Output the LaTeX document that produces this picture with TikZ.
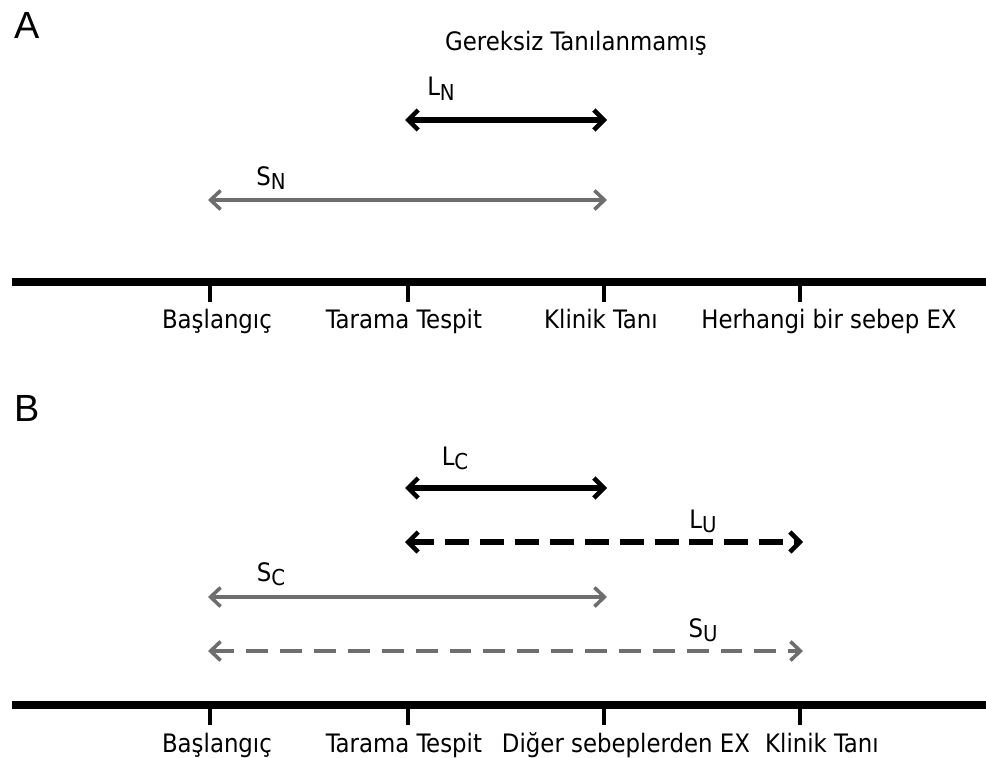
\documentclass[tikz,border=0pt]{standalone}
\usepackage{fontspec}
\setmainfont{DejaVu Sans Condensed}
\usetikzlibrary{arrows.meta}
\definecolor{grayline}{HTML}{6E6E6E}
\tikzset{
  lbl/.style={font=\fontsize{25.5}{28}\selectfont, inner sep=0pt, anchor=base},
  panel/.style={font=\fontsize{38}{40}\selectfont\fontspec{Liberation Sans}, inner sep=0pt},
  blackarr/.style={line width=5.4pt, black, {Straight Barb[length=10pt,width=20pt,line width=4.6pt]}-{Straight Barb[length=10pt,width=20pt,line width=4.6pt]}},
  grayarr/.style={line width=4pt, grayline, {Straight Barb[length=10pt,width=19pt,line width=3.6pt]}-{Straight Barb[length=10pt,width=19pt,line width=3.6pt]}},
  axis/.style={line width=7.2pt, black},
  tick/.style={line width=4.4pt, black},
  dshb/.style={dash pattern=on 24pt off 11pt},
  dshg/.style={dash pattern=on 22pt off 12pt}
}
\newcommand{\sbs}[2]{#1\raisebox{-0.35ex}{\fontsize{22}{24}\selectfont #2}}
\begin{document}
\begin{tikzpicture}[x=1bp,y=-1bp]
\useasboundingbox[fill=white] (0,0) rectangle (986,758);
% Panel A
\node[panel] (A) at (27,25) {A};
\node[lbl] (title) at (576,51) {Gereksiz Tanılanmamış};
\node[lbl] (LN) at (441,96) {\sbs{L}{N}};
\coordinate (ln1) at (405,120); \coordinate (ln2) at (607,120);
\draw[blackarr] (ln1) -- (ln2);
\node[lbl] (SN) at (271,185) {\sbs{S}{N}};
\coordinate (sn1) at (208,200); \coordinate (sn2) at (607,200);
\draw[grayarr] (sn1) -- (sn2);
\coordinate (axA1) at (12,282); \coordinate (axA2) at (986,282);
\draw[axis] (axA1) -- (axA2);
\foreach \x/\n in {210/a1,408/a2,604/a3,800/a4}{
  \coordinate (t\n) at (\x,282); \coordinate (b\n) at (\x,302);
  \draw[tick] (t\n) -- (b\n);
}
\node[lbl] (a1l) at (217,328) {Başlangıç};
\node[lbl] (a2l) at (404,328) {Tarama Tespit};
\node[lbl] (a3l) at (601,328) {Klinik Tanı};
\node[lbl] (a4l) at (829,328) {Herhangi bir sebep EX};
% Panel B
\node[panel] (B) at (27,408) {B};
\node[lbl] (LC) at (455,465) {\sbs{L}{C}};
\coordinate (lc1) at (405,488); \coordinate (lc2) at (607,488);
\draw[blackarr] (lc1) -- (lc2);
\node[lbl] (LU) at (703,528) {\sbs{L}{U}};
\coordinate (lu1) at (405,542); \coordinate (lu2) at (803,542);
\draw[blackarr,dshb] (lu1) -- (lu2);
\node[lbl] (SC) at (271,581) {\sbs{S}{C}};
\coordinate (sc1) at (208,597); \coordinate (sc2) at (607,597);
\draw[grayarr] (sc1) -- (sc2);
\node[lbl] (SU) at (703,637) {\sbs{S}{U}};
\coordinate (su1) at (208,651); \coordinate (su2) at (803,651);
\draw[grayarr,dshg] (su1) -- (su2);
\coordinate (axB1) at (12,705); \coordinate (axB2) at (986,705);
\draw[axis] (axB1) -- (axB2);
\foreach \x/\n in {210/b1,408/b2,604/b3,800/b4}{
  \coordinate (t\n) at (\x,705); \coordinate (b\n) at (\x,725);
  \draw[tick] (t\n) -- (b\n);
}
\node[lbl] (b1l) at (217,752) {Başlangıç};
\node[lbl] (b2l) at (404,752) {Tarama Tespit};
\node[lbl] (b3l) at (626,752) {Diğer sebeplerden EX};
\node[lbl] (b4l) at (822,752) {Klinik Tanı};
\end{tikzpicture}
\end{document}
